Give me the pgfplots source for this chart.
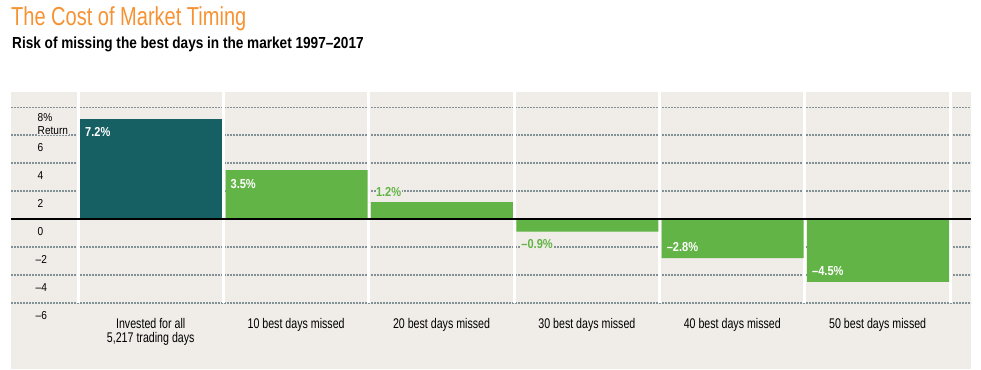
\documentclass[border=0pt]{standalone}
\usepackage{pgfplots}
\pgfplotsset{compat=1.18}
\usepackage{fontspec}
\setmainfont{Liberation Sans}
\newfontfamily\condfont[FakeStretch=0.88]{Liberation Sans}
\newfontfamily\catfont[FakeStretch=0.76]{Liberation Sans}
\newfontfamily\valfont[FakeStretch=0.85]{Liberation Sans}
\newfontfamily\subfont[FakeStretch=0.85]{Liberation Sans}
\newfontfamily\titlefont[FakeStretch=0.77]{Liberation Sans}
\definecolor{bg}{RGB}{240,236,232}
\definecolor{teal}{RGB}{22,96,99}
\definecolor{grn}{RGB}{98,180,70}
\definecolor{gridc}{RGB}{130,145,150}
\definecolor{torange}{RGB}{246,146,50}
\begin{document}
\begin{tikzpicture}
\useasboundingbox (0,0) rectangle (981pt,369pt);
\node[anchor=base west, inner sep=0, text=torange, font=\titlefont\fontsize{26}{30}\selectfont] at (11pt,343pt) {The Cost of Market Timing};
\node[anchor=base west, inner sep=0, font=\subfont\bfseries\fontsize{16}{18}\selectfont] at (12pt,320pt) {Risk of missing the best days in the market 1997–2017};
\tikzset{ylab/.style={anchor=west, inner sep=0.5pt, fill=bg, font=\condfont\fontsize{11.5}{13}\selectfont, xshift=26pt},
  vlab/.style={anchor=west, inner sep=0.5pt, font=\valfont\bfseries\fontsize{13}{14}\selectfont, xshift=6.5pt},
  clab/.style={anchor=north, inner sep=0pt, align=center, font=\catfont\fontsize{14}{14.5}\selectfont, yshift=-15pt},
  wl/.style={white, line width=3pt}}
\begin{axis}[at={(11pt,0pt)}, anchor=south west, scale only axis,
  width=960pt, height=277pt,
  xmin=-0.461, xmax=6.142, ymin=-10.75, ymax=9.1,
  axis background/.style={fill=bg},
  axis line style={draw=none},
  xtick=\empty,
  ytick={-6,-4,-2,2,4,6,8}, yticklabels={,,},
  major tick length=0pt,
  ymajorgrids,
  major grid style={gridc, line width=1.6pt, dash pattern=on 1.6pt off 1.4pt},
  clip=false]
\draw[wl] (axis cs:0,-6) -- (axis cs:0,9.1);
\draw[wl] (axis cs:1,-6) -- (axis cs:1,9.1);
\draw[wl] (axis cs:2,-6) -- (axis cs:2,9.1);
\draw[wl] (axis cs:3,-6) -- (axis cs:3,9.1);
\draw[wl] (axis cs:4,-6) -- (axis cs:4,9.1);
\draw[wl] (axis cs:5,-6) -- (axis cs:5,9.1);
\draw[wl] (axis cs:6,-6) -- (axis cs:6,9.1);
\addplot[ybar, bar width=0.977, bar shift=0.003, fill=teal, draw=none] coordinates {(0.5,7.2)};
\addplot[ybar, bar width=0.977, bar shift=0.003, fill=grn, draw=none] coordinates {(1.5,3.5) (2.5,1.2) (3.5,-0.9) (4.5,-2.8) (5.5,-4.5)};
\draw[black, line width=1.6pt] (axis cs:-0.461,0) -- (axis cs:6.142,0);
% y labels
\node[ylab, yshift=-10pt] at (axis cs:-0.461,8) {8\%};
\node[ylab, yshift=-23.5pt] at (axis cs:-0.461,8) {Return};
\node[ylab, yshift=-12.5pt] at (axis cs:-0.461,6) {6};
\node[ylab, yshift=-12.5pt] at (axis cs:-0.461,4) {4};
\node[ylab, yshift=-12.5pt] at (axis cs:-0.461,2) {2};
\node[ylab, yshift=-12.5pt] at (axis cs:-0.461,0) {0};
\node[ylab, yshift=-12.5pt, xshift=-2pt] at (axis cs:-0.461,-2) {–2};
\node[ylab, yshift=-12.5pt, xshift=-2pt] at (axis cs:-0.461,-4) {–4};
\node[ylab, yshift=-12.5pt, xshift=-2pt] at (axis cs:-0.461,-6) {–6};
% value labels
\node[vlab, text=white, yshift=-13.5pt] at (axis cs:0,7.2) {7.2\%};
\node[vlab, text=white, yshift=-13.5pt] at (axis cs:1,3.5) {3.5\%};
\node[vlab, text=grn, fill=bg, yshift=10pt] at (axis cs:2,1.2) {1.2\%};
\node[vlab, text=grn, fill=bg, yshift=-12.6pt] at (axis cs:3,-0.9) {–0.9\%};
\node[vlab, text=white, yshift=11pt] at (axis cs:4,-2.8) {–2.8\%};
\node[vlab, text=white, yshift=11pt] at (axis cs:5,-4.5) {–4.5\%};
% category labels
\node[clab] at (axis cs:0.5,-6) {Invested for all\\5,217 trading days};
\node[clab] at (axis cs:1.5,-6) {10 best days missed};
\node[clab] at (axis cs:2.5,-6) {20 best days missed};
\node[clab] at (axis cs:3.5,-6) {30 best days missed};
\node[clab] at (axis cs:4.5,-6) {40 best days missed};
\node[clab] at (axis cs:5.5,-6) {50 best days missed};
\end{axis}
\end{tikzpicture}
\end{document}
